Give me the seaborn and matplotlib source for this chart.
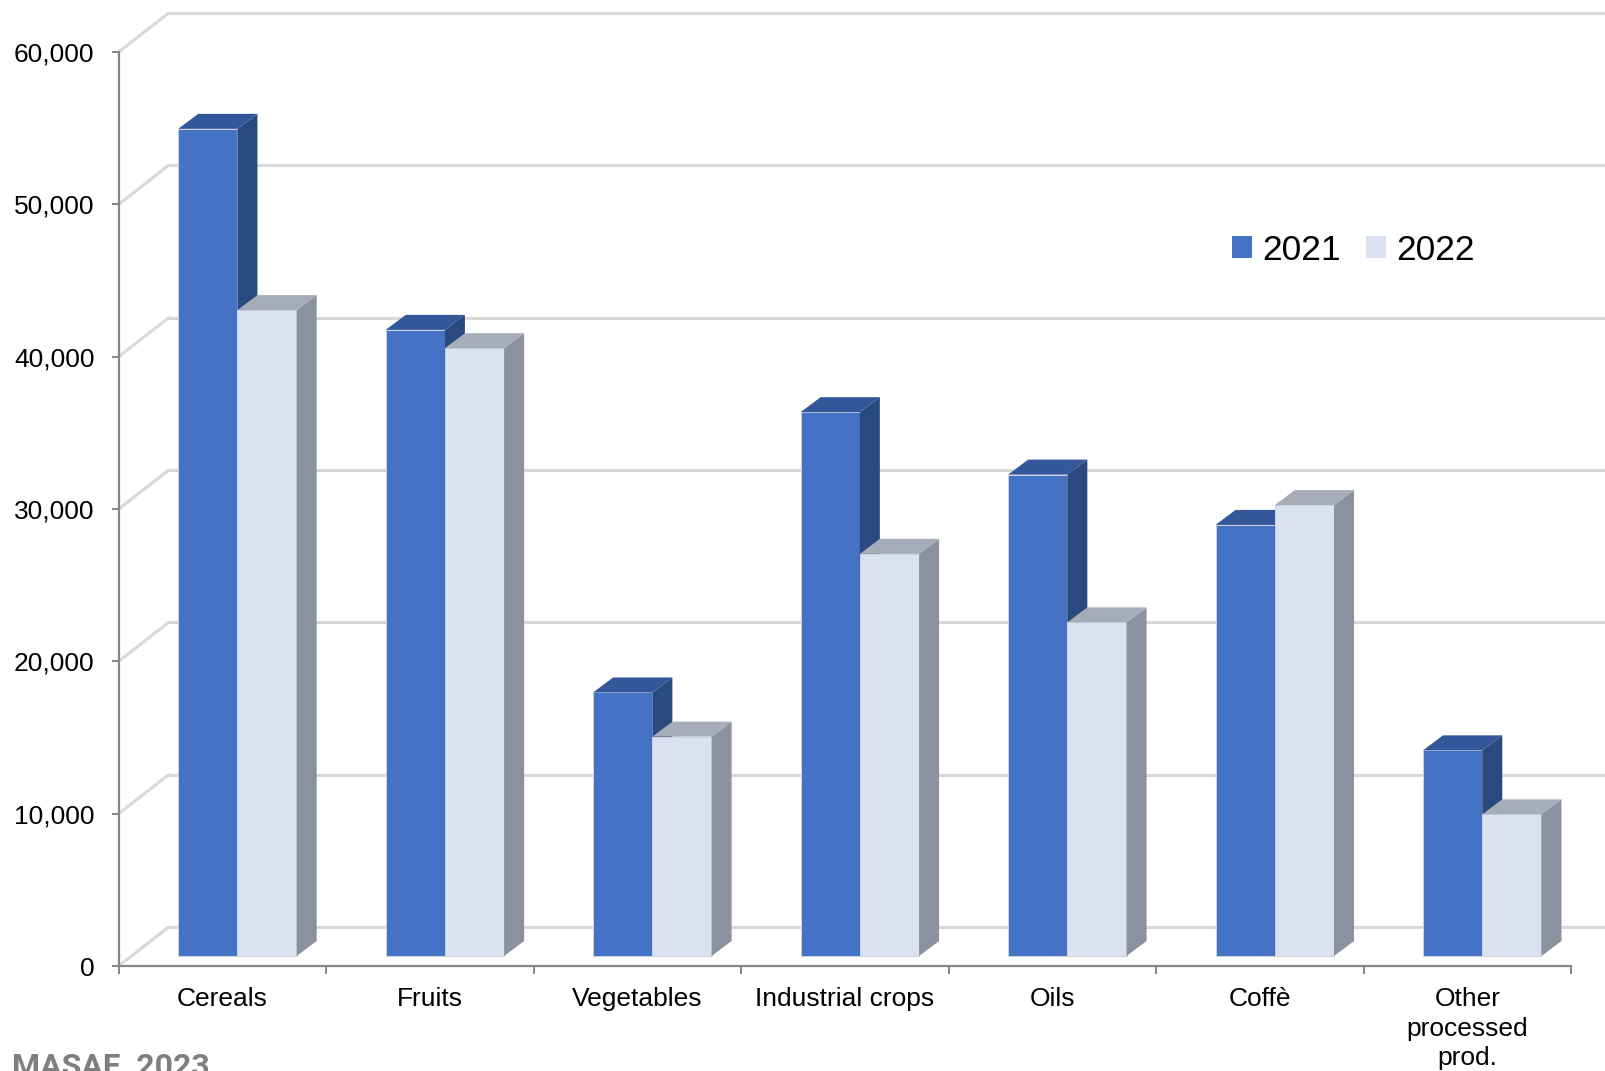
import numpy as np
import pandas as pd
import matplotlib
matplotlib.use("Agg")
import matplotlib.pyplot as plt
import seaborn as sns
from matplotlib.patches import Polygon, Patch
from matplotlib.lines import Line2D
from matplotlib.transforms import ScaledTranslation, IdentityTransform
from matplotlib.ticker import FixedLocator, FuncFormatter

# ---------------- data ----------------
categories = ["Cereals", "Fruits", "Vegetables", "Industrial crops", "Oils",
              "Coffè", "Other\nprocessed\nprod."]
years = ["2021", "2022"]
values_2021 = [54300, 41100, 17300, 35700, 31600, 28300, 13500]
values_2022 = [42400, 39900, 14400, 26400, 21900, 29600, 9300]
y_ticks = [0, 10000, 20000, 30000, 40000, 50000, 60000]
source_text = "MASAF, 2023"

# ---------------- style ----------------
front_colors = {"2021": "#4472C4", "2022": "#DAE1F0"}
top_colors = {"2021": "#33579A", "2022": "#A6ADB8"}
side_colors = {"2021": "#2A4A7F", "2022": "#8A929D"}
axis_gray = "#868686"
grid_gray = "#D9D9D9"

sns.set_style("ticks")
plt.rcParams["font.family"] = ["Liberation Sans", "DejaVu Sans"]

DPI = 100
W, H = 1605, 1071
fig = plt.figure(figsize=(W / DPI, H / DPI), dpi=DPI)
fig.patch.set_facecolor("white")
ax = fig.add_axes([118.7 / W, 105 / H, 1452.3 / W, 914 / H])

df = pd.DataFrame({
    "category": categories * 2,
    "year": [years[0]] * len(categories) + [years[1]] * len(categories),
    "value": values_2021 + values_2022,
})

sns.barplot(data=df, x="category", y="value", hue="year", order=categories,
            hue_order=years, palette=[front_colors[y] for y in years],
            width=0.571, saturation=1, errorbar=None, legend=False,
            edgecolor="#CDD3DF", linewidth=0.7, ax=ax)

ax.set_xlim(-0.5, len(categories) - 0.5)
ax.set_ylim(0, 60000)
ax.set_xlabel("")
ax.set_ylabel("")
ax.patch.set_visible(False)

# pseudo-3D depth offsets (pixels)
FRONT = (15, 10)      # bar front plane offset from the axis front plane
BAR_D = (20, 15)      # bar depth
WALL_D = (50, 39)     # full depth of chart box

# back wall / floor gridlines
ident = IdentityTransform()
for v in y_ticks:
    xf, yf = ax.transData.transform((-0.5, v))
    ax.add_line(Line2D([xf, xf + WALL_D[0]], [yf, yf + WALL_D[1]],
                       transform=ident, color=grid_gray, lw=2.2,
                       clip_on=False, zorder=0.5))
    ax.add_line(Line2D([xf + WALL_D[0], W + 20], [yf + WALL_D[1], yf + WALL_D[1]],
                       transform=ident, color=grid_gray, lw=2.2,
                       clip_on=False, zorder=0.5))

# 3D faces for each bar
shift = ScaledTranslation(FRONT[0] / DPI, FRONT[1] / DPI, fig.dpi_scale_trans)
z = 2.0
for ci in range(len(categories)):
    for hi, cont in enumerate(ax.containers):
        yr_ = years[hi]
        p = cont.patches[ci]
        x0, w, h = p.get_x(), p.get_width(), p.get_height()
        X0, Y0 = ax.transData.transform((x0, 0))
        X1, Y1 = ax.transData.transform((x0 + w, h))
        X0 += FRONT[0]; X1 += FRONT[0]; Y0 += FRONT[1]; Y1 += FRONT[1]
        dx, dy = BAR_D
        p.set_transform(ax.transData + shift)
        p.set_clip_on(False)
        p.set_zorder(z)
        side = Polygon([(X1, Y0), (X1, Y1), (X1 + dx, Y1 + dy), (X1 + dx, Y0 + dy)],
                       closed=True, transform=ident, facecolor=side_colors[yr_],
                       edgecolor="none", clip_on=False, zorder=z)
        top = Polygon([(X0, Y1), (X1, Y1), (X1 + dx, Y1 + dy), (X0 + dx, Y1 + dy)],
                      closed=True, transform=ident, facecolor=top_colors[yr_],
                      edgecolor="none", clip_on=False, zorder=z)
        ax.add_patch(side)
        ax.add_patch(top)
        z += 0.01

# axes spines and ticks
for s in ["top", "right"]:
    ax.spines[s].set_visible(False)
for s in ["left", "bottom"]:
    ax.spines[s].set_color(axis_gray)
    ax.spines[s].set_linewidth(1.6)
    ax.spines[s].set_zorder(5)

ax.yaxis.set_major_locator(FixedLocator(y_ticks))
ax.yaxis.set_major_formatter(FuncFormatter(lambda v, _: f"{v:,.0f}"))
ax.tick_params(axis="y", which="major", length=5, width=1.4, color=axis_gray,
               labelsize=19, pad=12.5, labelcolor="black", left=True)

ax.set_xticks(range(len(categories)))
ax.set_xticklabels(categories, linespacing=1.3)
ax.set_xticks(np.arange(-0.5, len(categories), 1.0), minor=True)
ax.tick_params(axis="x", which="major", length=0, labelsize=19, pad=15,
               labelcolor="black")
ax.tick_params(axis="x", which="minor", length=6, width=1.4, color=axis_gray,
               bottom=True)

# legend
handles = [Patch(facecolor=front_colors[y], edgecolor="none", label=y) for y in years]
fig.legend(handles=handles, loc="center left",
           bbox_to_anchor=(1232 / W, 1 - 250 / H), ncol=2, frameon=False,
           fontsize=25.5, handlelength=0.57, handleheight=0.57,
           handletextpad=0.28, columnspacing=0.72, borderpad=0,
           borderaxespad=0, labelcolor="black")

# source note (cut at bottom edge as in reference)
fig.text(12 / W, 1 - 1052 / H, source_text, ha="left", va="top",
         fontsize=23, fontweight="bold", color="#7F7F7F",
         family=["Roboto", "DejaVu Sans"])

fig.savefig("out.png", dpi=DPI, facecolor="white")
